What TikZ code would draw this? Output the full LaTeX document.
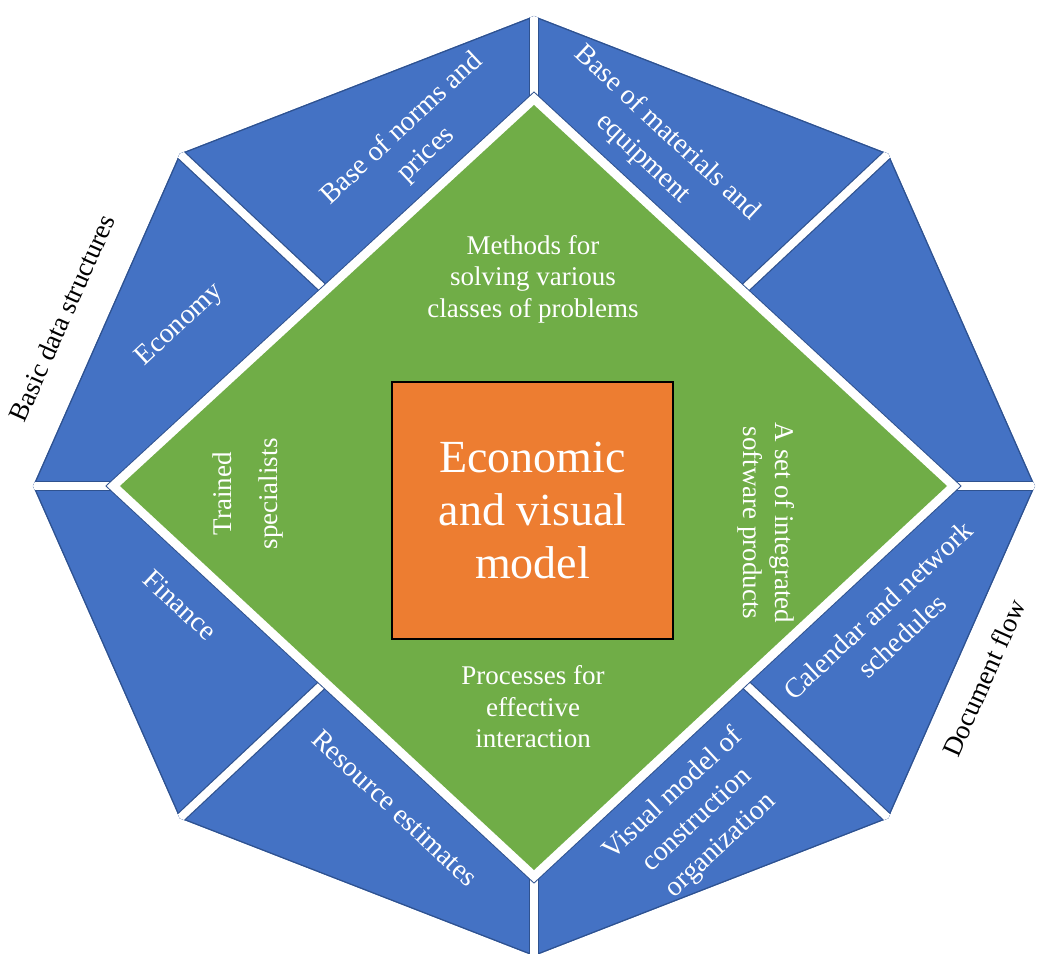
\documentclass[tikz,border=0pt]{standalone}
\usepackage{fontspec}
\setmainfont{Liberation Serif}
\usepackage{tikz}

\definecolor{pieceblue}{HTML}{4472C4}
\definecolor{pieceedge}{HTML}{2F528F}
\definecolor{rhombgreen}{HTML}{70AD47}
\definecolor{coreorange}{HTML}{ED7D31}

\tikzset{
  piece/.style={fill=pieceblue},
  gapline/.style={draw=pieceedge, line width=0.6pt, double=white, double distance=4pt},
  inlabel/.style={text=white, align=center, font=\fontsize{13.5}{15.8}\selectfont},
  seglabel/.style={text=white, align=center, font=\fontsize{14}{17.5}\selectfont},
  outlabel/.style={text=black, align=center, font=\fontsize{13.5}{15.8}\selectfont},
  corebox/.style={draw=black, line width=1pt, fill=coreorange, text=white, align=center,
    minimum width=140.5pt, minimum height=128.5pt, font=\fontsize{23}{26.5}\selectfont}
}

\begin{document}
\begin{tikzpicture}[x=0.5pt, y=0.5pt]
    \useasboundingbox (-534,-467) rectangle (503,486);

    % Outer octagon
    \fill[piece] (0:501 and 470) \foreach \a in {45,90,...,315}{ -- (\a:501 and 470)} -- cycle;

    % Outline and white gaps between the segments
    \begin{scope}
      \clip (0:501 and 470) \foreach \a in {45,90,...,315}{ -- (\a:501 and 470)} -- cycle;
      \draw[pieceedge, line width=1.2pt] (0:501 and 470) \foreach \a in {45,90,...,315}{ -- (\a:501 and 470)} -- cycle;
      \foreach \a in {0,45,...,315}
        \draw[gapline] (0,0) -- (\a:580 and 544);
    \end{scope}

    % Green rhombus with white border band
    \draw[pieceedge, line width=10pt] (413,0) -- (0,381) -- (-414,0) -- (0,-384) -- cycle;
    \draw[white, line width=9pt] (413,0) -- (0,381) -- (-414,0) -- (0,-384) -- cycle;
    \fill[rhombgreen] (413,0) -- (0,381) -- (-414,0) -- (0,-384) -- cycle;

    % Centre
    \node[corebox] (core) at (-1.5,-24.5) {Economic\\and visual\\model};

    % Labels in the rhombus
    \node[inlabel] (methods) at (-1,207) {Methods for\\solving various\\classes of problems};
    \node[inlabel] (processes) at (-1,-221) {Processes for\\effective\\interaction};
    \node[inlabel, rotate=90, font=\fontsize{13.5}{23}\selectfont] (trained) at (-286,-8) {Trained\\specialists};
    \node[inlabel, rotate=-90] (software) at (232,-37) {A set of integrated\\software products};

    % Labels in the segments
    \node[seglabel, rotate=43] (norms) at (-120,344) {Base of norms and\\prices};
    \node[seglabel, rotate=43] (economy) at (-354,161) {Economy};
    \node[seglabel, rotate=-43] (finance) at (-354,-119) {Finance};
    \node[seglabel, rotate=-43] (estimates) at (-139,-322) {Resource estimates};
    \node[seglabel, rotate=43] (visual) at (163,-334) {Visual model of\\construction\\organization};
    \node[seglabel, rotate=43] (calendar) at (356,-137) {Calendar and network\\schedules};
    \node[seglabel, rotate=-43] (materials) at (121,340) {Base of materials and\\equipment};

    % Outside labels
    \node[outlabel, rotate=66] (basic) at (-472,168) {Basic data structures};
    \node[outlabel, rotate=66] (docflow) at (450,-192) {Document flow};
\end{tikzpicture}
\end{document}
